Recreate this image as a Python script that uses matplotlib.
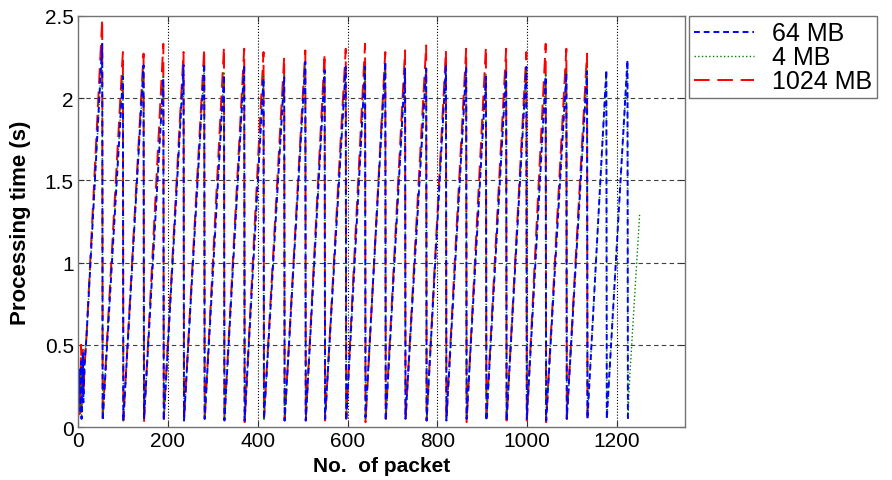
import matplotlib

matplotlib.use("Agg")
import matplotlib.pyplot as plt
import numpy as np

plt.rcParams["font.family"] = ["Liberation Sans", "DejaVu Sans"]

# packet index at which each sawtooth cycle peaks (shared by all three runs)
peak_x = [54, 100, 146, 190, 235, 281, 325, 370, 413, 459, 506, 549, 596, 639,
          684, 728, 775, 819, 864, 908, 953, 998, 1041, 1087, 1133, 1176, 1223]

# peak processing time of each cycle (s)
peak_64 = [2.33, 2.13, 2.20, 2.12, 2.20, 2.21, 2.14, 2.20, 2.12, 2.13, 2.22, 2.17,
           2.19, 2.19, 2.22, 2.18, 2.18, 2.20, 2.19, 2.13, 2.17, 2.19, 2.13, 2.15,
           2.16, 2.17, 2.23]
peak_4 = [2.30, 2.15, 2.18, 2.14, 2.18, 2.19, 2.16, 2.18, 2.14, 2.15, 2.20, 2.16,
          2.18, 2.20, 2.20, 2.17, 2.19, 2.18, 2.17, 2.15, 2.16, 2.18, 2.15, 2.16,
          2.17, 2.16, 2.22]
peak_1024 = [2.48, 2.28, 2.27, 2.33, 2.28, 2.30, 2.31, 2.30, 2.28, 2.25, 2.29, 2.27,
             2.30, 2.33, 2.28, 2.29, 2.32, 2.29, 2.30, 2.31, 2.30, 2.28, 2.33, 2.30,
             2.27]

# value right after each drop (s)
low_64 = [0.05, 0.04, 0.04, 0.05, 0.04, 0.04, 0.05, 0.04, 0.04, 0.05, 0.04, 0.04,
          0.05, 0.04, 0.06, 0.04, 0.05, 0.04, 0.04, 0.05, 0.04, 0.04, 0.05, 0.04,
          0.05, 0.05, 0.05]
low_4 = [0.05, 0.05, 0.04, 0.05, 0.05, 0.04, 0.05, 0.05, 0.04, 0.05, 0.05, 0.04,
         0.05, 0.05, 0.05, 0.04, 0.05, 0.05, 0.04, 0.05, 0.05, 0.04, 0.05, 0.05,
         0.05, 0.06, 0.05]
low_1024 = [0.03, 0.05, 0.04, 0.03, 0.05, 0.04, 0.04, 0.05, 0.03, 0.05, 0.04, 0.04,
            0.04, 0.05, 0.03, 0.05, 0.04, 0.04, 0.05, 0.03, 0.05, 0.04, 0.04, 0.03,
            0.05, 0.05]

# noisy start of the first cycle
head_x = [0, 3, 4, 7, 8, 11, 12, 15, 19]
head_64 = [0.05, 0.35, 0.10, 0.40, 0.05, 0.45, 0.15, 0.40, 0.55]
head_4 = [0.04, 0.30, 0.12, 0.38, 0.06, 0.42, 0.18, 0.42, 0.55]
head_1024 = [0.02, 0.28, 0.08, 0.50, 0.10, 0.48, 0.20, 0.38, 0.55]

# last partial ramp of the 4 MB run
tail_x = [1228, 1250]
tail_4 = [0.30, 1.29]


def sawtooth(peaks, lows, head_y, n_cycles):
    xs = list(head_x) + [peak_x[0]]
    ys = list(head_y) + [peaks[0]]
    for i in range(1, n_cycles):
        xs += [peak_x[i - 1] + 1, peak_x[i]]
        ys += [lows[i], peaks[i]]
    xs.append(peak_x[n_cycles - 1] + 1)
    ys.append(lows[n_cycles] if n_cycles < len(lows) else lows[-1])
    return np.array(xs), np.array(ys)


x64, y64 = sawtooth(peak_64, low_64, head_64, len(peak_64))
x4, y4 = sawtooth(peak_4, low_4, head_4, len(peak_4))
x4 = np.concatenate([x4, tail_x])
y4 = np.concatenate([y4, tail_4])
x1024, y1024 = sawtooth(peak_1024, low_1024, head_1024, len(peak_1024))

fig = plt.figure(figsize=(8.92, 4.81), dpi=100)
ax = fig.add_axes([0.0874, 0.110, 0.680, 0.855])

h_red, = ax.plot(x1024, y1024, color="#ff0000", lw=1.4, dashes=(8, 4), label="1024 MB")
h_green, = ax.plot(x4, y4, color="#008000", lw=1.0, linestyle=":", label="4 MB")
h_blue, = ax.plot(x64, y64, color="#0000ff", lw=1.4, dashes=(3, 2), label="64 MB")

ax.set_xlim(0, 1350)
ax.set_ylim(0, 2.5)
ax.set_xticks([0, 200, 400, 600, 800, 1000, 1200])
ax.set_yticks([0, 0.5, 1, 1.5, 2, 2.5])
ax.set_yticklabels(["0", "0.5", "1", "1.5", "2", "2.5"])
for v in [200, 400, 600, 800, 1000, 1200]:
    ax.axvline(v, color="black", lw=0.8, linestyle=":", zorder=0)
for v in [0.5, 1, 1.5, 2]:
    ax.axhline(v, color="0.25", lw=0.8, dashes=(4, 3), zorder=0)

ax.tick_params(direction="in", labelsize=15, length=4, top=True, right=True,
               color="0.2", pad=3)
for s in ax.spines.values():
    s.set_color("0.45")
    s.set_linewidth(1.0)

ax.set_xlabel("No.  of packet", fontsize=15, fontweight="bold", labelpad=4)
ax.set_ylabel("Processing time (s)", fontsize=16, fontweight="bold", labelpad=10)

leg = fig.legend(handles=[h_blue, h_green, h_red], loc="upper left",
                 bbox_to_anchor=(689 / 892, 1 - 16.7 / 481), fontsize=18,
                 frameon=True, fancybox=False, edgecolor="0.3", handlelength=2.4,
                 handleheight=0.5, borderpad=0.2, labelspacing=0.0,
                 handletextpad=0.7, borderaxespad=0)
leg.get_frame().set_linewidth(1.0)

fig.savefig("out.png", dpi=100)
